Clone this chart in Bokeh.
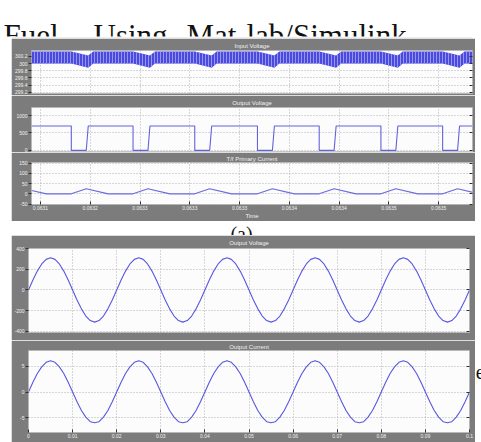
from bokeh.plotting import figure
from bokeh.layouts import column, row
from bokeh.models import Range1d, FixedTicker, Spacer, CustomJSTickFormatter, LinearAxis
from bokeh.core.properties import value
from bokeh.embed import file_html
from bokeh.resources import INLINE

# ---------------- data ----------------
heading_words = ["Fuel", "Using", "Mat", "lab/Simulink"]
caption_a = "(a)"
caption_e = "e"

# scope (a): time axis in microseconds
a_time_ticks = [63100, 63150, 63200, 63250, 63300, 63350, 63400, 63450, 63500]
a_time_labels = ["0.0631", "0.0632", "0.0633", "0.0633", "0.0633",
                 "0.0634", "0.0634", "0.0635", "0.0635"]
a_time_window = [63091, 63534]
switch_off = [63131, 63193, 63255, 63318, 63380, 63442, 63504]
switch_on = [63146, 63208, 63270, 63333, 63395, 63457, 63519]

vin_ticks = [299.2, 299.4, 299.6, 299.8, 300.0, 300.2]
vin_upper = [300.33, 300.22]      # normal, dip
vin_lower = [300.00, 299.88]      # normal, dip
vout_ticks = [0, 500, 1000]
vout_levels = [700, 0]            # high, low
ipri_ticks = [-50, 0, 50, 100, 150]
ipri_start = 16
ipri_first_zero = 63106
ipri_peak = 25
ipri_decay_us = 22

# scope (b)
b_time_ticks = [0, 0.01, 0.02, 0.03, 0.04, 0.05, 0.06, 0.07, 0.08, 0.09, 0.1]
b_time = [k / 1000 for k in range(101)]
b_voltage = [0, 96, 182, 251, 295, 310, 295, 251, 182, 96,
             0, -96, -182, -251, -295, -310, -295, -251, -182, -96,
             0, 96, 182, 251, 295, 310, 295, 251, 182, 96,
             0, -96, -182, -251, -295, -310, -295, -251, -182, -96,
             0, 96, 182, 251, 295, 310, 295, 251, 182, 96,
             0, -96, -182, -251, -295, -310, -295, -251, -182, -96,
             0, 96, 182, 251, 295, 310, 295, 251, 182, 96,
             0, -96, -182, -251, -295, -310, -295, -251, -182, -96,
             0, 96, 182, 251, 295, 310, 295, 251, 182, 96,
             0, -96, -182, -251, -295, -310, -295, -251, -182, -96,
             0]
b_current = [0, 1.9, 3.6, 4.9, 5.8, 6.1, 5.8, 4.9, 3.6, 1.9,
             0, -1.9, -3.6, -4.9, -5.8, -6.0, -5.8, -4.9, -3.6, -1.9,
             0, 1.9, 3.6, 4.9, 5.8, 6.1, 5.8, 4.9, 3.6, 1.9,
             0, -1.9, -3.6, -4.9, -5.8, -6.0, -5.8, -4.9, -3.6, -1.9,
             0, 1.9, 3.6, 4.9, 5.8, 6.1, 5.8, 4.9, 3.6, 1.9,
             0, -1.9, -3.6, -4.9, -5.8, -6.0, -5.8, -4.9, -3.6, -1.9,
             0, 1.9, 3.6, 4.9, 5.8, 6.1, 5.8, 4.9, 3.6, 1.9,
             0, -1.9, -3.6, -4.9, -5.8, -6.0, -5.8, -4.9, -3.6, -1.9,
             0, 1.9, 3.6, 4.9, 5.8, 6.1, 5.8, 4.9, 3.6, 1.9,
             0, -1.9, -3.6, -4.9, -5.8, -6.0, -5.8, -4.9, -3.6, -1.9,
             0]
b_voltage_ticks = [-400, -200, 0, 200, 400]
b_current_ticks = [-5, 0, 5]

# ---------------- derived series ----------------
RAMP = 2
vout_t, vout_v = [a_time_window[0]], [vout_levels[0]]
for f, r in zip(switch_off, switch_on):
    vout_t += [f, f, r, r + RAMP]
    vout_v += [vout_levels[0], vout_levels[1], vout_levels[1], vout_levels[0]]
vout_t.append(a_time_window[1]); vout_v.append(vout_levels[0])

ip_t, ip_v = [a_time_window[0], ipri_first_zero], [ipri_start, 0]
for f, r in zip(switch_off, switch_on):
    ip_t += [f, r, r + ipri_decay_us]
    ip_v += [0, ipri_peak, 0]

env_t, env_hi, env_lo = [a_time_window[0]], [vin_upper[0]], [vin_lower[0]]
for f, r in zip(switch_off, switch_on):
    env_t += [f, r + 2, r + 7]
    env_hi += [vin_upper[0], vin_upper[1], vin_upper[0]]
    env_lo += [vin_lower[0], vin_lower[1], vin_lower[0]]
env_t.append(a_time_window[1]); env_hi.append(vin_upper[0]); env_lo.append(vin_lower[0])

# ---------------- styling ----------------
GRAY = "#7c7c7c"
BLUE = "#5858e0"
LABEL = "#f0f0f0"
TICK = "#303030"
SANS = "Liberation Sans"
SERIF = "Liberation Serif"
num_fmt = "return String(Math.round(tick*100)/100)"


def scope(h, xr, yr, top, bottom, left, right, title, tstand, yticks, xticks,
          xlabels=None, show_x=False, xname=None):
    p = figure(width=464, height=h, x_range=xr, y_range=yr, output_backend="svg",
               toolbar_location=None, min_border_top=top, min_border_bottom=bottom,
               min_border_left=left, min_border_right=right,
               background_fill_color="#fcfcfc", border_fill_color=GRAY,
               outline_line_color="#a0a0a0", outline_line_width=0.6)
    p.title.text = title
    p.title.text_font = SANS
    p.title.text_font_size = "6px"
    p.title.text_font_style = "normal"
    p.title.text_color = LABEL
    p.title.align = "center"
    p.title.standoff = tstand
    p.title.offset = 0
    yt = FixedTicker(ticks=yticks)
    xt = FixedTicker(ticks=xticks)
    ya = p.yaxis[0]
    ya.ticker = yt
    ya.formatter = CustomJSTickFormatter(code=num_fmt)
    ya.major_label_text_font = SANS
    ya.major_label_text_font_size = "5px"
    ya.major_label_text_color = LABEL
    ya.major_tick_in = 0
    ya.major_tick_out = 3
    ya.major_tick_line_color = TICK
    ya.minor_tick_line_color = None
    ya.axis_line_color = None
    ya.major_label_standoff = 1
    # tick marks on the right edge (no labels)
    ra = LinearAxis(ticker=yt, formatter=CustomJSTickFormatter(code="return ''"),
                    major_tick_in=3, major_tick_out=0, major_tick_line_color=TICK,
                    minor_tick_line_color=None, axis_line_color=None,
                    major_label_standoff=0, major_label_text_font_size="1px")
    p.add_layout(ra, "right")
    xa = p.xaxis[0]
    xa.ticker = xt
    if show_x:
        if xlabels is not None:
            xa.formatter = CustomJSTickFormatter(code="return labels[index]", args=dict(labels=xlabels))
        else:
            xa.formatter = CustomJSTickFormatter(code=num_fmt)
        xa.major_label_text_font = SANS
        xa.major_label_text_font_size = "5px"
        xa.major_label_text_color = LABEL
        xa.major_tick_in = 3
        xa.major_tick_out = 0
        xa.major_tick_line_color = TICK
        xa.minor_tick_line_color = None
        xa.axis_line_color = None
        xa.major_label_standoff = 1
        if xname:
            xa.axis_label = xname
            xa.axis_label_text_font = SANS
            xa.axis_label_text_font_size = "6px"
            xa.axis_label_text_font_style = "normal"
            xa.axis_label_text_color = LABEL
            xa.axis_label_standoff = 0
    else:
        xa.visible = False
    p.xgrid.ticker = xt
    p.ygrid.ticker = yt
    for g in (p.xgrid, p.ygrid):
        g.grid_line_color = "#a0a0a0"
        g.grid_line_dash = "1 2"
        g.grid_line_width = 0.8
    return p


# ---------------- header ----------------
heading_x = [3, 93, 186, 246]
hdr = figure(width=481, height=38, x_range=Range1d(0, 481), y_range=Range1d(38, 0),
             output_backend="svg", toolbar_location=None, min_border=0, outline_line_color=None)
hdr.axis.visible = False
hdr.grid.visible = False
hdr.text(x=heading_x, y=[35] * len(heading_words), text=heading_words,
         text_font=value(SERIF), text_font_size="31px", text_color="#111111",
         text_baseline="alphabetic")
hdr.quad(left=[0], right=[481], bottom=[38], top=[36], fill_color="white", line_color=None)
hdr.segment(x0=[12], y0=[37.5], x1=[472], y1=[37.5], line_color="#b4b4b4", line_dash="1 1")

# ---------------- scope (a) ----------------
axr = Range1d(*a_time_window)
a1 = scope(57, axr, Range1d(299.17, 300.36), 12, 2, 18, 3, "Input Voltage", 4, vin_ticks, a_time_ticks)
a1.varea(x=env_t, y1=env_lo, y2=env_hi, fill_color="#4a4ae0", fill_alpha=1.0,
         hatch_pattern="vertical_line", hatch_color="#a9a9f2", hatch_scale=3, hatch_weight=0.8)
a2 = scope(57, axr, Range1d(-60, 1230), 12, 0, 18, 3, "Output Voltage", 4, vout_ticks, a_time_ticks)
a2.line(vout_t, vout_v, line_color="#6262dc", line_width=1.1)
a3 = scope(69, axr, Range1d(-52, 153), 10, 15, 18, 3, "T/f Primary Current", 1.5, ipri_ticks, a_time_ticks,
           xlabels=a_time_labels, show_x=True, xname="Time")
a3.line(ip_t, ip_v, line_color="#6a6ae0", line_width=1.1)

# ---------------- caption band ----------------
cap = figure(width=481, height=14, x_range=Range1d(0, 481), y_range=Range1d(235, 221),
             output_backend="svg", toolbar_location=None, min_border=0, outline_line_color=None)
cap.axis.visible = False
cap.grid.visible = False
cap.text(x=[241], y=[222], text=[caption_a], text_font=value(SERIF), text_font_size="20px",
         text_color="#111111", text_align="center", text_baseline="top")

# ---------------- scope (b) ----------------
bxr = Range1d(0, 0.1)
b1 = scope(105, bxr, Range1d(-410, 400), 13, 8, 16, 6, "Output Voltage", 4.5, b_voltage_ticks, b_time_ticks)
b1.line(b_time, b_voltage, line_color=BLUE, line_width=1.1)
b2 = scope(102, bxr, Range1d(-7.9, 8.1), 9, 10, 16, 6, "Output Current", 2, b_current_ticks, b_time_ticks,
           show_x=True)
b2.line(b_time, b_current, line_color=BLUE, line_width=1.1)

ef = figure(width=6, height=207, x_range=Range1d(475, 481), y_range=Range1d(442, 235),
            output_backend="svg", toolbar_location=None, min_border=0, outline_line_color=None)
ef.axis.visible = False
ef.grid.visible = False
ef.text(x=[475.3], y=[371], text=[caption_e], text_font=value(SERIF), text_font_size="20px",
        text_color="#111111", text_baseline="alphabetic")

root = column(
    hdr,
    row(Spacer(width=11, height=183), column(a1, a2, a3), Spacer(width=6, height=183)),
    cap,
    row(Spacer(width=11, height=207), column(b1, b2), ef),
)

open("out.html", "w").write(file_html(root, INLINE))
